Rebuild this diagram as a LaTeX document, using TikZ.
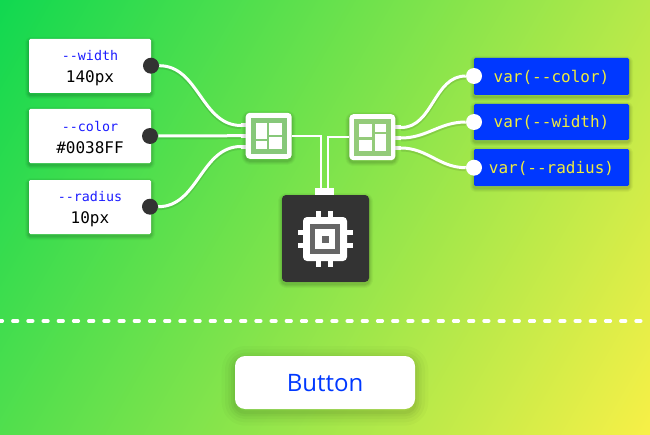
\documentclass[tikz,border=0pt]{standalone}
\usepackage{fontspec}
\newfontfamily\codefont{DejaVu Sans Mono}
\newfontfamily\btnfont{Open Sans}
\definecolor{bgstart}{RGB}{15,216,80}
\definecolor{bgend}{RGB}{249,240,71}
\definecolor{cssblue}{RGB}{0,56,255}
\definecolor{namekey}{RGB}{28,28,255}
\definecolor{chipdark}{RGB}{51,51,51}
\definecolor{chipring}{RGB}{102,102,102}
\definecolor{codeyellow}{RGB}{240,236,60}
\definecolor{panea}{RGB}{135,200,122}
\definecolor{paneb}{RGB}{148,203,122}
\pgfdeclarehorizontalshading{bggrad}{800bp}{color(0bp)=(bgstart); color(590bp)=(bgend)}
\tikzset{
  softlayer/.style n args={3}{preaction={draw=black,draw opacity=#1,line join=round,line width=#2,transform canvas={yshift=#3}}},
  softshadow/.style={softlayer={.03}{6pt}{-1.5pt},softlayer={.04}{4.5pt}{-1.5pt},softlayer={.05}{3pt}{-1.5pt},softlayer={.06}{1.5pt}{-1.5pt}},
  bigshadow/.style={softlayer={.02}{20pt}{-2.5pt},softlayer={.025}{15pt}{-2.5pt},softlayer={.03}{10pt}{-2.5pt},softlayer={.035}{6pt}{-2.5pt},softlayer={.04}{2.5pt}{-2.5pt}},
  varbox/.style={softshadow,fill=white,rounded corners=1pt,minimum width=91.5pt,minimum height=40.5pt,inner sep=0pt,align=center,font=\codefont\fontsize{12}{16.5}\selectfont},
  refbox/.style={softshadow,fill=cssblue,text=codeyellow,rounded corners=1pt,minimum width=116.25pt,inner sep=0pt,text height=10pt,font=\codefont\fontsize{12}{14}\selectfont},
  blackdot/.style={circle,fill=chipdark,minimum size=12pt,inner sep=0pt},
  whitedot/.style={circle,fill=white,minimum size=12pt,inner sep=0pt},
  mixbox/.style={softshadow,fill=white,rounded corners=3pt,minimum width=34.5pt,minimum height=34.5pt,inner sep=0pt},
  wire/.style={draw=white,line width=2.25pt,preaction={draw=black,draw opacity=.1,line width=3.2pt,transform canvas={yshift=-1pt}}},
  pinstub/.style={draw=white,line width=3pt},
  trace/.style={draw=white,line width=1.5pt},
  cellbit/.style={fill=white},
  cpupin/.style={fill=white},
}
\newcommand{\varname}[1]{\rule{0pt}{10pt}{\fontsize{10}{16.5}\selectfont\color{namekey}#1}}
\begin{document}
\begin{tikzpicture}[x=0.75pt,y=0.75pt,yscale=-1,xscale=1]
	\useasboundingbox (0,0) rectangle (650,435);
	% background
	\begin{scope}
	\clip (0,0) rectangle (650,435);
	\node [inner sep=0pt,rotate=-30] (bgfill) at (325,217.5) {\pgfuseshading{bggrad}};
	\end{scope}

	% dashed divider
	\coordinate (dashl) at (0,321);
	\coordinate (dashr) at (650,321);
	\draw [white,line width=2.8pt,line cap=round,dash pattern=on 3.4pt off 8pt,dash phase=1.7pt] (dashl) -- (dashr);

	% input boxes
	\node [varbox] (boxwidth) at (90,66) {\varname{--width}\\140px};
	\node [varbox] (boxcolor) at (90,136) {\varname{--color}\\\#0038FF};
	\node [varbox] (boxradius) at (90,207) {\varname{--radius}\\10px};

	% output boxes
	\node [refbox,minimum height=27.75pt] (usecolor) at (551.5,76.5) {var(--color)};
	\node [refbox,minimum height=27pt] (usewidth) at (551.5,122) {var(--width)};
	\node [refbox,minimum height=27.75pt] (useradius) at (551.5,167.5) {var(--radius)};

	% dots
	\node [blackdot] (dotwidth) at (151,65.7) {};
	\node [blackdot] (dotcolor) at (150,136) {};
	\node [blackdot] (dotradius) at (150,206.7) {};
	\node [whitedot] (dotuc) at (474,76) {};
	\node [whitedot] (dotuw) at (474,122) {};
	\node [whitedot] (dotur) at (474,167.7) {};

	% pins of the two grids
	\coordinate (pa1) at (241,125.5);
	\coordinate (pa2) at (241,135.7);
	\coordinate (pa3) at (241,146.5);
	\coordinate (pb1) at (401,127.5);
	\coordinate (pb2) at (401,138);
	\coordinate (pb3) at (401,148);

	% wires
	\draw [wire] (dotwidth.east) to[out=0,in=180] (pa1);
	\draw [wire] (dotcolor.east) -- (pa2);
	\draw [wire] (dotradius.east) to[out=0,in=180] (pa3);
	\draw [wire] (pb1) to[out=0,in=180] (dotuc.west);
	\draw [wire] (pb2) to[out=0,in=180] (dotuw.west);
	\draw [wire] (pb3) to[out=0,in=180] (dotur.west);
	\draw [pinstub] (pa1) -- ++(6,0);
	\draw [pinstub] (pa2) -- ++(6,0);
	\draw [pinstub] (pa3) -- ++(6,0);
	\draw [pinstub] (pb1) -- ++(-7,0);
	\draw [pinstub] (pb2) -- ++(-7,0);
	\draw [pinstub] (pb3) -- ++(-7,0);

	% cpu box
	\node [softshadow,fill=chipdark,rounded corners=3pt,minimum size=65.25pt,inner sep=0pt] (cpubox) at (325.5,238.5) {};
	\node [fill=white,minimum width=14.25pt,minimum height=5.25pt,inner sep=0pt] (cpubus) at (324.5,191.5) {};

	% left grid
	\node [mixbox] (mixa) at (268.7,135.8) {};
	\fill [panea] (251,117.7) rectangle (287.3,154);
	\fill [cellbit] (255.7,123.3) rectangle (266.7,139.3);
	\fill [cellbit] (255.7,141) rectangle (266.7,149);
	\fill [cellbit] (269,123.3) rectangle (281.7,135);
	\fill [cellbit] (269,136.7) rectangle (281.7,149);

	% right grid
	\node [mixbox] (mixb) at (372.3,137.2) {};
	\fill [paneb] (354,119) rectangle (390.7,155.7);
	\fill [cellbit] (359.3,124.3) rectangle (372.3,137.3);
	\fill [cellbit] (359.3,139.7) rectangle (372.3,150.7);
	\fill [cellbit] (375,124.3) rectangle (385.7,132.3);
	\fill [cellbit] (375,134.3) rectangle (385.7,150.7);

	% traces down to the cpu
	\draw [trace] (mixa.east) -| ([xshift=-2.8pt]cpubus.north);
	\draw [trace] (mixb.west) -| ([xshift=2.4pt]cpubus.north);

	% cpu icon
	\foreach \px in {316,328} {
		\fill [cpupin] (\px,211) rectangle (\px+5,267);
	}
	\foreach \py in {229.5,243} {
		\fill [cpupin] (298.3,\py) rectangle (352.7,\py+5);
	}
	\fill [white,rounded corners=3pt] (303,217) rectangle (347,261);
	\fill [chipring] (310,224) rectangle (340,254);
	\fill [white] (315,229) rectangle (335,249);
	\fill [chipring] (321.7,235.5) rectangle (328.7,242.5);

	% button
	\node [bigshadow,fill=white,rounded corners=7.5pt,minimum width=135pt,minimum height=39.75pt,inner sep=0pt,text=cssblue,text height=13.5pt,font=\btnfont\fontsize{18}{20}\selectfont] (button) at (325,382.5) {Button};
\end{tikzpicture}
\end{document}
